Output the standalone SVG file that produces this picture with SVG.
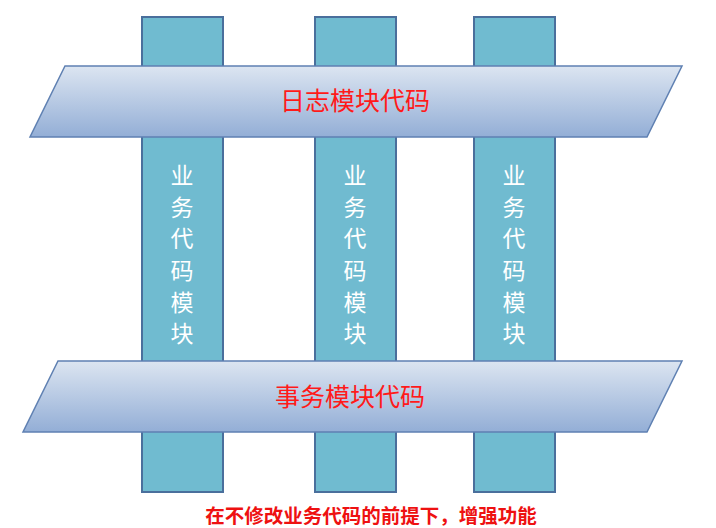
<svg xmlns="http://www.w3.org/2000/svg" width="716" height="528" viewBox="0 0 716 528">
<defs>
<linearGradient id="bandGrad" x1="0" y1="0" x2="0" y2="1">
<stop offset="0" stop-color="#dce5f1"/>
<stop offset="1" stop-color="#93aed6"/>
</linearGradient>
<style>
.col{fill:#70bbd0;stroke:#4a6f9c;stroke-width:2}
.band{fill:url(#bandGrad);stroke:#5f80b2;stroke-width:1.5}
.vt{font-family:"Noto Sans CJK SC","Liberation Sans",sans-serif;font-size:23px;fill:#ffffff;text-anchor:middle}
.bt{font-family:"Noto Sans CJK SC","Liberation Sans",sans-serif;font-size:25px;fill:#ff1a1a;text-anchor:middle}
.note{font-family:"Noto Sans CJK SC","Liberation Sans",sans-serif;font-size:19.5px;font-weight:bold;fill:#ee1111;text-anchor:middle}
</style>
</defs>
<rect width="716" height="528" fill="#ffffff"/>
<g id="col1">
<rect class="col" x="142" y="17" width="81" height="475"/>
<text class="vt" x="182" y="184">业</text>
<text class="vt" x="182" y="216">务</text>
<text class="vt" x="182" y="247">代</text>
<text class="vt" x="182" y="279">码</text>
<text class="vt" x="182" y="311">模</text>
<text class="vt" x="182" y="342">块</text>
</g>
<g id="col2">
<rect class="col" x="315" y="17" width="81" height="475"/>
<text class="vt" x="355" y="184">业</text>
<text class="vt" x="355" y="216">务</text>
<text class="vt" x="355" y="247">代</text>
<text class="vt" x="355" y="279">码</text>
<text class="vt" x="355" y="311">模</text>
<text class="vt" x="355" y="342">块</text>
</g>
<g id="col3">
<rect class="col" x="474" y="17" width="81" height="475"/>
<text class="vt" x="514" y="184">业</text>
<text class="vt" x="514" y="216">务</text>
<text class="vt" x="514" y="247">代</text>
<text class="vt" x="514" y="279">码</text>
<text class="vt" x="514" y="311">模</text>
<text class="vt" x="514" y="342">块</text>
</g>
<g id="log-band">
<polygon class="band" points="65,66 682,66 647,137 30,137"/>
<text class="bt" x="355" y="110">日志模块代码</text>
</g>
<g id="tx-band">
<polygon class="band" points="58,361 682,361 647,432 23,432"/>
<text class="bt" x="350" y="406">事务模块代码</text>
</g>
<g id="connectors"/>
<g id="note">
<text class="note" x="371" y="523">在不修改业务代码的前提下，增强功能</text>
</g>
</svg>
